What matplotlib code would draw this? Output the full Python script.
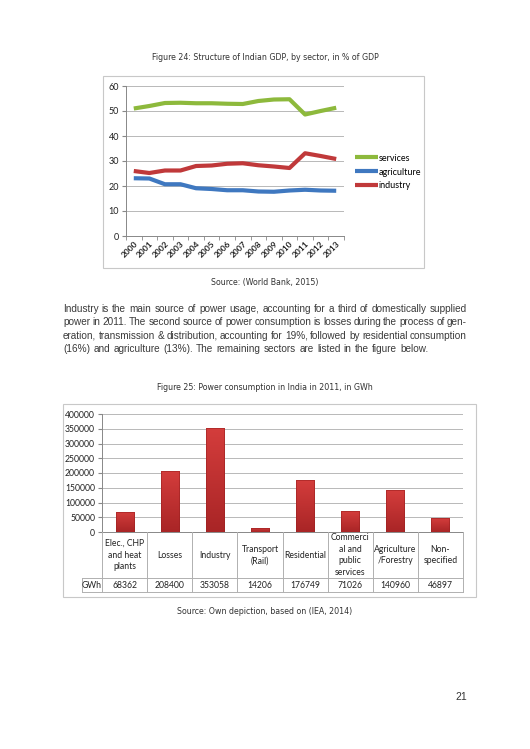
import numpy as np
import matplotlib
matplotlib.use("Agg")
import matplotlib.pyplot as plt
from matplotlib.patches import Rectangle
from matplotlib.lines import Line2D
from matplotlib.colors import LinearSegmentedColormap

# ---- data ----
years = ["2000", "2001", "2002", "2003", "2004", "2005", "2006",
         "2007", "2008", "2009", "2010", "2011", "2012", "2013"]
services = [51.0, 52.0, 53.2, 53.3, 53.1, 53.1, 52.9, 52.8, 54.0, 54.6, 54.7, 48.6, 50.0, 51.3]
agriculture = [23.1, 23.0, 20.7, 20.7, 19.1, 18.8, 18.3, 18.3, 17.8, 17.7, 18.2, 18.5, 18.2, 18.1]
industry = [26.0, 25.2, 26.2, 26.2, 28.0, 28.2, 28.9, 29.1, 28.3, 27.8, 27.2, 33.1, 32.0, 30.8]

sectors = ["Elec., CHP\nand heat\nplants", "Losses", "Industry", "Transport\n(Rail)",
           "Residential", "Commerci\nal and\npublic\nservices", "Agriculture\n/Forestry",
           "Non-\nspecified"]
gwh = [68362, 208400, 353058, 14206, 176749, 71026, 140960, 46897]

paragraph = [
    "Industry is the main source of power usage, accounting for a third of domestically supplied",
    "power in 2011. The second source of power consumption is losses during the process of gen-",
    "eration, transmission & distribution, accounting for 19%, followed by residential consumption",
    "(16%) and agriculture (13%). The remaining sectors are listed in the figure below.",
]

W, H = 530, 749
fig = plt.figure(figsize=(W / 100, H / 100), dpi=100)
fig.patch.set_facecolor("white")


def fx(x):
    return x / W


def fy(y):
    return 1 - y / H


def box(x0, y0, x1, y1, color="#c8c8c8"):
    fig.patches.append(Rectangle((fx(x0), fy(y1)), fx(x1) - fx(x0), fy(y0) - fy(y1),
                                 transform=fig.transFigure, fill=False,
                                 edgecolor=color, linewidth=0.8))


def hline(x0, x1, y, color="#b0b0b0"):
    fig.lines.append(Line2D([fx(x0), fx(x1)], [fy(y), fy(y)], transform=fig.transFigure,
                            color=color, linewidth=0.7))


def vline(x, y0, y1, color="#b0b0b0"):
    fig.lines.append(Line2D([fx(x), fx(x)], [fy(y0), fy(y1)], transform=fig.transFigure,
                            color=color, linewidth=0.7))


cap_font = dict(family="DejaVu Sans", fontstretch="condensed", fontsize=6.3, color="#333333")
body_size = 7.2
chart_font = "Lato"
gridc = "#b8b8b8"

# ---- figure 24 ----
fig.text(fx(265), fy(57), "Figure 24: Structure of Indian GDP, by sector, in % of GDP",
         ha="center", va="center", **cap_font)
box(103, 76, 424, 268)

ax1 = fig.add_axes([fx(126), fy(236), fx(344) - fx(126), fy(86) - fy(236)])
x = np.arange(len(years))
ax1.plot(x, services, color="#8db93c", lw=3, label="services", solid_capstyle="butt")
ax1.plot(x, agriculture, color="#3f78c0", lw=3, label="agriculture", solid_capstyle="butt")
ax1.plot(x, industry, color="#c0393a", lw=3, label="industry", solid_capstyle="butt")
ax1.set_xlim(-0.5, len(years) - 0.5)
ax1.set_ylim(0, 60)
ax1.set_yticks(range(0, 61, 10))
ax1.set_xticks(x)
ax1.set_xticklabels(years, rotation=45, ha="right", rotation_mode="anchor",
                    fontsize=6, fontweight="bold", family=chart_font)
for t in ax1.get_yticklabels():
    t.set_fontsize(6.5)
    t.set_family(chart_font)
ax1.set_xticks(np.arange(-0.5, len(years), 1), minor=True)
ax1.tick_params(axis="x", which="major", length=0, pad=3, colors="#222222")
ax1.tick_params(axis="x", which="minor", length=3, color="#888888")
ax1.tick_params(axis="y", length=3, color="#888888", pad=2, colors="#222222")
ax1.grid(axis="y", color=gridc, lw=0.7)
ax1.set_axisbelow(True)
for s in ["top", "right"]:
    ax1.spines[s].set_visible(False)
for s in ["left", "bottom"]:
    ax1.spines[s].set_color("#888888")
    ax1.spines[s].set_linewidth(0.7)
ax1.legend(loc="center left", bbox_to_anchor=(fx(355), fy(172)),
           bbox_transform=fig.transFigure, frameon=False,
           prop=dict(family=chart_font, size=6.5), handlelength=2.6, handletextpad=0.0,
           labelspacing=0.55, borderaxespad=0, borderpad=0)

fig.text(fx(265), fy(283), "Source: (World Bank, 2015)", ha="center", va="center", **cap_font)

# ---- paragraph (justified) ----
renderer = fig.canvas.get_renderer()
left, right = 63, 467
for i, line in enumerate(paragraph):
    y = fy(309 + i * 13.4)
    words = line.split(" ")
    txts = [fig.text(0, y, w, ha="left", va="center", family="Liberation Sans",
                     fontsize=body_size, color="#3a3a3a") for w in words]
    widths = [t.get_window_extent(renderer).width for t in txts]
    if i < len(paragraph) - 1:
        gap = (right - left - sum(widths)) / (len(words) - 1)
    else:
        gap = body_size * 1.39 * 0.33
    pos = left
    for t, wd in zip(txts, widths):
        t.set_x(fx(pos))
        pos += wd + gap

# ---- figure 25 ----
fig.text(fx(265), fy(387), "Figure 25: Power consumption in India in 2011, in GWh",
         ha="center", va="center", **cap_font)
box(63, 404, 476, 597)

ax2 = fig.add_axes([fx(102), fy(532), fx(463) - fx(102), fy(414) - fy(532)])
xb = np.arange(len(sectors))
bars = ax2.bar(xb, gwh, width=0.4, color="none", edgecolor="none")
ax2.set_yticks(range(0, 400001, 50000))
ax2.set_xticks([])
for t in ax2.get_yticklabels():
    t.set_fontsize(6.2)
    t.set_family(chart_font)
ax2.tick_params(axis="y", length=3, color="#888888", pad=2, colors="#222222")
ax2.grid(axis="y", color=gridc, lw=0.7)
ax2.set_axisbelow(True)
for s in ["top", "right"]:
    ax2.spines[s].set_visible(False)
for s in ["left", "bottom"]:
    ax2.spines[s].set_color("#888888")
    ax2.spines[s].set_linewidth(0.7)

grad = np.linspace(0, 1, 64).reshape(-1, 1)
cmap = LinearSegmentedColormap.from_list("redgrad", ["#a92526", "#d43d3c"])
for b in bars:
    x0, w, h = b.get_x(), b.get_width(), b.get_height()
    im = ax2.imshow(grad, extent=(x0, x0 + w, 0, h), origin="lower", cmap=cmap,
                    aspect="auto", zorder=3)
    im.set_clip_path(b)
    ax2.add_patch(Rectangle((x0, 0), w, h, fill=False, edgecolor="#9a2020", lw=0.4, zorder=4))
ax2.set_xlim(-0.5, len(sectors) - 0.5)
ax2.set_ylim(0, 400000)

# data table under the bars
cell = (463 - 102) / len(sectors)
tab_font = dict(family=chart_font, fontsize=6.2, color="#222222")
hline(82, 463, 578)
hline(82, 463, 592)
vline(82, 578, 592)
for k in range(len(sectors) + 1):
    vline(102 + k * cell, 532, 592)
for k, (name, val) in enumerate(zip(sectors, gwh)):
    cx = fx(102 + (k + 0.5) * cell)
    fig.text(cx, fy(555), name, ha="center", va="center", linespacing=1.35, **tab_font)
    fig.text(cx, fy(585), str(val), ha="center", va="center", **tab_font)
fig.text(fx(92), fy(585), "GWh", ha="center", va="center", **tab_font)

fig.text(fx(265), fy(611), "Source: Own depiction, based on (IEA, 2014)",
         ha="center", va="center", **cap_font)

fig.text(fx(467), fy(697), "21", ha="right", va="center", family="Liberation Sans",
         color="#333333", fontsize=7.5)

fig.savefig("out.png", dpi=100, facecolor="white")
